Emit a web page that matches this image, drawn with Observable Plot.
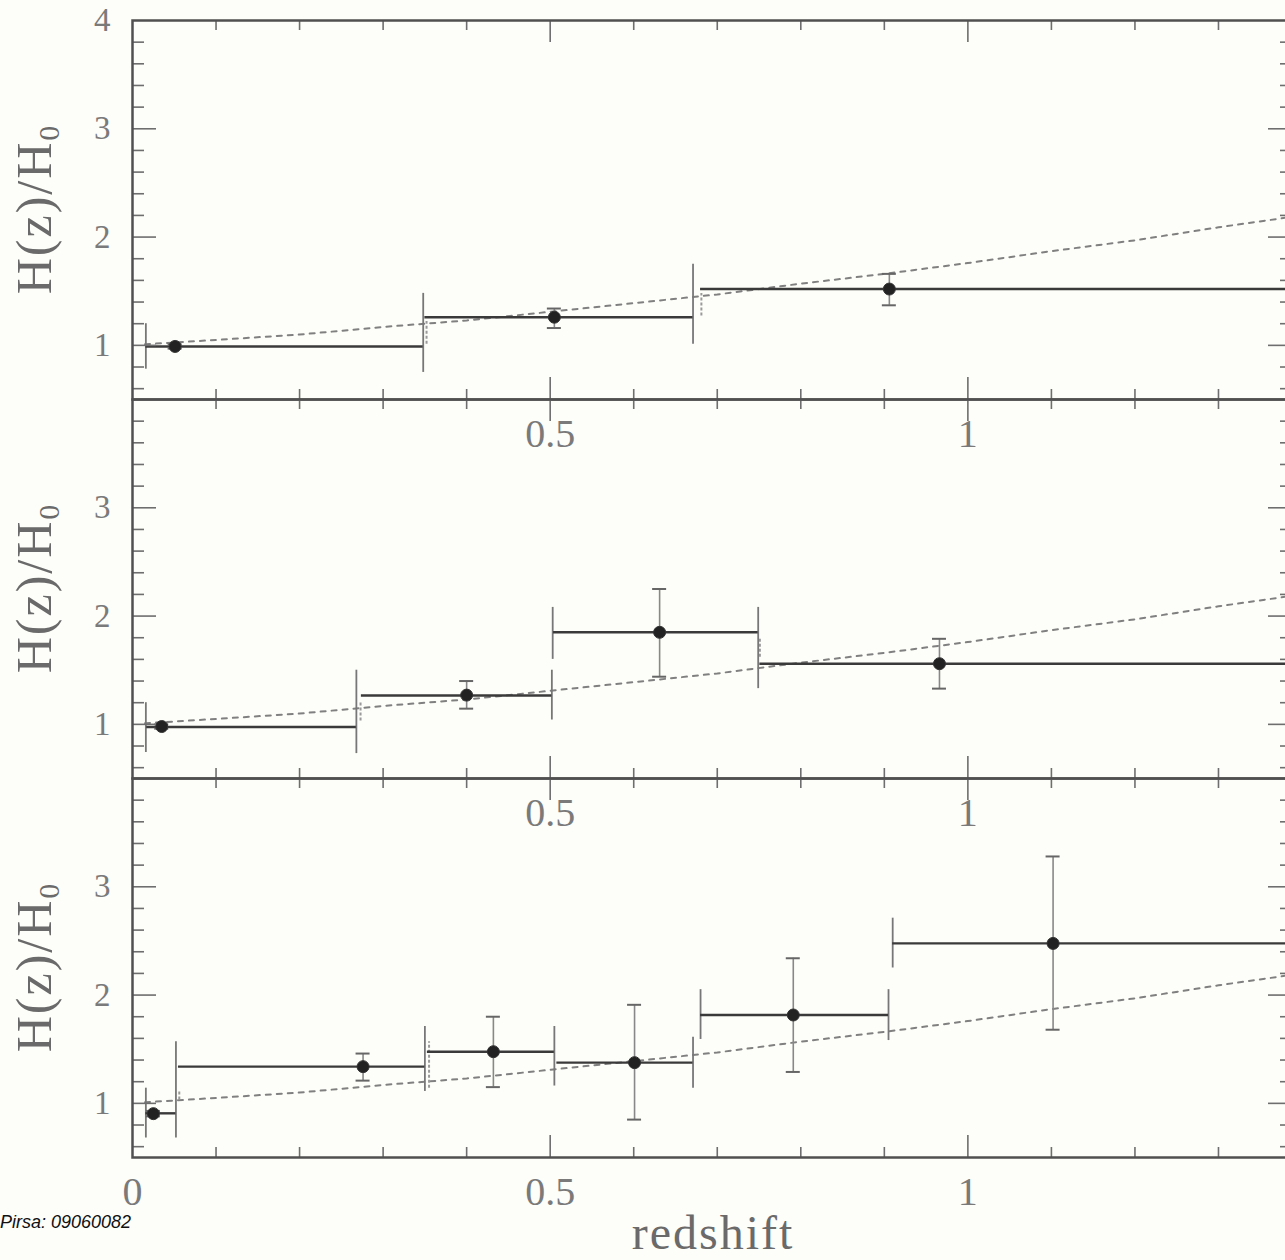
<!DOCTYPE html>
<html>
<head>
<meta charset="utf-8">
<script src="https://cdn.jsdelivr.net/npm/d3@7"></script>
<script src="https://cdn.jsdelivr.net/npm/@observablehq/plot@0.6"></script>
<style>
  html, body { margin: 0; padding: 0; background: #fdfdf9; overflow: hidden; }
  #wrap { position: relative; width: 1285px; height: 1260px; overflow: hidden; background: #fdfdf9; }
  .panel { position: absolute; left: 0; width: 1300px; }
  .panel svg { background: transparent !important; overflow: visible; max-width: none !important; }
  .panel svg text { font-family: "Liberation Serif", "DejaVu Serif", serif; fill: #7a7a7a; }
  .panel g[aria-label="x-axis tick label"] text { font-size: 40px; }
  .panel g[aria-label="y-axis tick label"] text { font-size: 33px; }
  .ytitle { position: absolute; left: 36px; font-family: "Liberation Serif", "DejaVu Serif", serif;
            font-size: 50px; color: #6a6a6a; white-space: nowrap; letter-spacing: 2px;
            transform: translate(-50%, -50%) rotate(-90deg); line-height: 1; }
  .ytitle sub { font-size: 30px; vertical-align: -8px; letter-spacing: 0; }
  #xtitle { position: absolute; left: 713px; top: 1209px; transform: translateX(-50%);
            font-family: "Liberation Serif", "DejaVu Serif", serif; font-size: 48px; color: #6a6a6a;
            letter-spacing: 2px; line-height: 1; white-space: nowrap; }
  #credit { position: absolute; left: 0px; top: 1213px; font-family: "Liberation Sans", Arial, sans-serif;
            font-style: italic; font-size: 18px; color: #111; white-space: nowrap; line-height: 1; }
</style>
</head>
<body>
<div id="wrap"></div>
<script>
// ---------------- data ----------------
// model curve (dotted), z vs H(z)/H0
const curveZ = [0.015, 0.1, 0.2, 0.3, 0.4, 0.5, 0.6, 0.7, 0.8, 0.9, 1.0, 1.1, 1.2, 1.3, 1.4];
const curveH = [1.01, 1.05, 1.10, 1.17, 1.23, 1.31, 1.39, 1.47, 1.57, 1.66, 1.76, 1.87, 1.97, 2.09, 2.20];

// Panel 1 (top)
const bins1 = [
  {lo: 0.016, hi: 0.348, h: 0.99},
  {lo: 0.350, hi: 0.671, h: 1.26},
  {lo: 0.680, hi: 1.40,  h: 1.52}
];
const edges1 = [
  {z: 0.016, lo: 0.78, hi: 1.20},
  {z: 0.348, lo: 0.75, hi: 1.48},
  {z: 0.671, lo: 1.01, hi: 1.75}
];
const faint1 = [
  {z: 0.352, lo: 1.01, hi: 1.22},
  {z: 0.681, lo: 1.27, hi: 1.48}
];
const points1 = [
  {z: 0.051, h: 0.99, lo: 0.97, hi: 1.01},
  {z: 0.505, h: 1.26, lo: 1.16, hi: 1.34},
  {z: 0.906, h: 1.52, lo: 1.37, hi: 1.66}
];

// Panel 2 (middle)
const bins2 = [
  {lo: 0.017, hi: 0.268, h: 0.975},
  {lo: 0.274, hi: 0.502, h: 1.267},
  {lo: 0.504, hi: 0.749, h: 1.85},
  {lo: 0.751, hi: 1.40,  h: 1.56}
];
const edges2 = [
  {z: 0.016, lo: 0.74, hi: 1.20},
  {z: 0.268, lo: 0.73, hi: 1.50},
  {z: 0.502, lo: 1.04, hi: 1.50},
  {z: 0.503, lo: 1.60, hi: 2.08},
  {z: 0.749, lo: 1.33, hi: 2.08}
];
const faint2 = [
  {z: 0.273, lo: 1.03, hi: 1.20},
  {z: 0.751, lo: 1.62, hi: 1.80}
];
const points2 = [
  {z: 0.035, h: 0.98, lo: 0.96, hi: 1.00},
  {z: 0.400, h: 1.27, lo: 1.145, hi: 1.40},
  {z: 0.631, h: 1.85, lo: 1.44, hi: 2.25},
  {z: 0.966, h: 1.56, lo: 1.33, hi: 1.79}
];

// Panel 3 (bottom)
const bins3 = [
  {lo: 0.016, hi: 0.052, h: 0.908},
  {lo: 0.055, hi: 0.350, h: 1.339},
  {lo: 0.353, hi: 0.505, h: 1.477},
  {lo: 0.508, hi: 0.671, h: 1.376},
  {lo: 0.680, hi: 0.905, h: 1.816},
  {lo: 0.910, hi: 1.40,  h: 2.477}
];
const edges3 = [
  {z: 0.016, lo: 0.68, hi: 1.14},
  {z: 0.052, lo: 0.68, hi: 1.57},
  {z: 0.350, lo: 1.11, hi: 1.71},
  {z: 0.505, lo: 1.16, hi: 1.71},
  {z: 0.671, lo: 1.14, hi: 1.61},
  {z: 0.680, lo: 1.59, hi: 2.05},
  {z: 0.905, lo: 1.58, hi: 2.05},
  {z: 0.910, lo: 2.25, hi: 2.71}
];
const faint3 = [
  {z: 0.355, lo: 1.14, hi: 1.57},
  {z: 0.056, lo: 1.03, hi: 1.12}
];
const points3 = [
  {z: 0.025, h: 0.905, lo: 0.88, hi: 0.93},
  {z: 0.276, h: 1.339, lo: 1.21, hi: 1.46},
  {z: 0.432, h: 1.477, lo: 1.15, hi: 1.80},
  {z: 0.601, h: 1.376, lo: 0.85, hi: 1.91},
  {z: 0.791, h: 1.816, lo: 1.29, hi: 2.34},
  {z: 1.102, h: 2.477, lo: 1.68, hi: 3.28}
];

// tick labels
const xLabelsUpper = [0.5, 1];
const xLabelsBottom = [0, 0.5, 1];
const yLabelsTop = [1, 2, 3, 4];
const yLabelsOther = [1, 2, 3];
const xMinorTicks = [0.1, 0.2, 0.3, 0.4, 0.6, 0.7, 0.8, 0.9, 1.1, 1.2, 1.3];
const xMajorTicks = [0.5, 1.0];
const yMinorTicks = [0.6, 0.8, 1.2, 1.4, 1.6, 1.8, 2.2, 2.4, 2.6, 2.8, 3.2, 3.4, 3.6, 3.8];
const yMajorTicks = [1, 2, 3];

// ---------------- layout ----------------
const X_MAX = 1.3886, Y_MIN = 0.5, Y_MAX = 4.0;
const W = 1300, ML = 132, MR = 8, MT = 10, INNER_H = 379, MB = 60;
const pxX = (W - ML - MR) / X_MAX;
const pxY = INNER_H / (Y_MAX - Y_MIN);
const curve = curveZ.map((z, i) => ({z, h: curveH[i]}));

const AX = "#505050", TICK = "#6e6e6e";

function panel({bins, edges, faint, points, xLabels, yLabels}) {
  const yT = [...yMinorTicks.map(v => ({v, len: 12})), ...yMajorTicks.map(v => ({v, len: 24}))];
  const xT = [...xMinorTicks.map(v => ({v, len: 10})), ...xMajorTicks.map(v => ({v, len: 22}))];
  const cap = 7 / pxX;
  return Plot.plot({
    width: W, height: MT + INNER_H + MB,
    marginLeft: ML, marginRight: MR, marginTop: MT, marginBottom: MB,
    style: {background: "transparent", overflow: "visible", maxWidth: "none", color: "#7a7a7a", fontFamily: "Liberation Serif, serif"},
    x: {domain: [0, X_MAX]},
    y: {domain: [Y_MIN, Y_MAX]},
    marks: [
      // model curve
      Plot.line(curve, {x: "z", y: "h", stroke: "#808080", strokeWidth: 2, strokeDasharray: "5,6", clip: true}),
      // faint edge marks
      Plot.ruleX(faint, {x: "z", y1: "lo", y2: "hi", stroke: "#9a9a9a", strokeWidth: 2, strokeDasharray: "3,2"}),
      // bin edge error ranges
      Plot.ruleX(edges, {x: "z", y1: "lo", y2: "hi", stroke: "#777", strokeWidth: 1.8}),
      // bins
      Plot.ruleY(bins, {y: "h", x1: "lo", x2: "hi", stroke: "#3a3a3a", strokeWidth: 2.4, clip: true}),
      // point error bars
      Plot.ruleX(points, {x: "z", y1: "lo", y2: "hi", stroke: "#888", strokeWidth: 1.6}),
      Plot.ruleY(points, {y: "lo", x1: d => d.z - cap, x2: d => d.z + cap, stroke: "#666", strokeWidth: 2}),
      Plot.ruleY(points, {y: "hi", x1: d => d.z - cap, x2: d => d.z + cap, stroke: "#666", strokeWidth: 2}),
      Plot.dot(points, {x: "z", y: "h", r: 6, fill: "#222", stroke: "#333", strokeWidth: 1}),
      // inward ticks (left, right, top, bottom)
      Plot.ruleY(yT, {y: "v", x1: 0, x2: d => d.len / pxX, stroke: TICK, strokeWidth: 1.6}),
      Plot.ruleY(yT, {y: "v", x1: d => X_MAX - d.len / pxX, x2: X_MAX, stroke: TICK, strokeWidth: 1.6}),
      Plot.ruleX(xT, {x: "v", y1: d => Y_MAX - d.len / pxY, y2: Y_MAX, stroke: TICK, strokeWidth: 1.6}),
      Plot.ruleX(xT, {x: "v", y1: Y_MIN, y2: d => Y_MIN + d.len / pxY, stroke: TICK, strokeWidth: 1.6}),
      Plot.frame({stroke: AX, strokeWidth: 2.5}),
      Plot.axisX({ticks: xLabels, tickSize: 0, tickPadding: 19, tickFormat: d => String(d), label: null, fontSize: 40}),
      Plot.axisY({ticks: yLabels, tickSize: 0, tickPadding: 22, tickFormat: d => String(d), label: null, fontSize: 33})
    ]
  });
}

const wrap = document.getElementById("wrap");
const cfgs = [
  {bins: bins1, edges: edges1, faint: faint1, points: points1, xLabels: xLabelsUpper, yLabels: yLabelsTop, top: 20},
  {bins: bins2, edges: edges2, faint: faint2, points: points2, xLabels: xLabelsUpper, yLabels: yLabelsOther, top: 399},
  {bins: bins3, edges: edges3, faint: faint3, points: points3, xLabels: xLabelsBottom, yLabels: yLabelsOther, top: 778}
];
cfgs.forEach(cfg => {
  const div = document.createElement("div");
  div.className = "panel";
  div.style.top = (cfg.top - MT) + "px";
  div.appendChild(panel(cfg));
  wrap.appendChild(div);
  const t = document.createElement("div");
  t.className = "ytitle";
  t.style.top = (cfg.top + INNER_H / 2) + "px";
  t.innerHTML = "H(z)/H<sub>0</sub>";
  wrap.appendChild(t);
});
const xt = document.createElement("div");
xt.id = "xtitle"; xt.textContent = "redshift";
wrap.appendChild(xt);
const cr = document.createElement("div");
cr.id = "credit"; cr.textContent = "Pirsa: 09060082";
wrap.appendChild(cr);
</script>
</body>
</html>
